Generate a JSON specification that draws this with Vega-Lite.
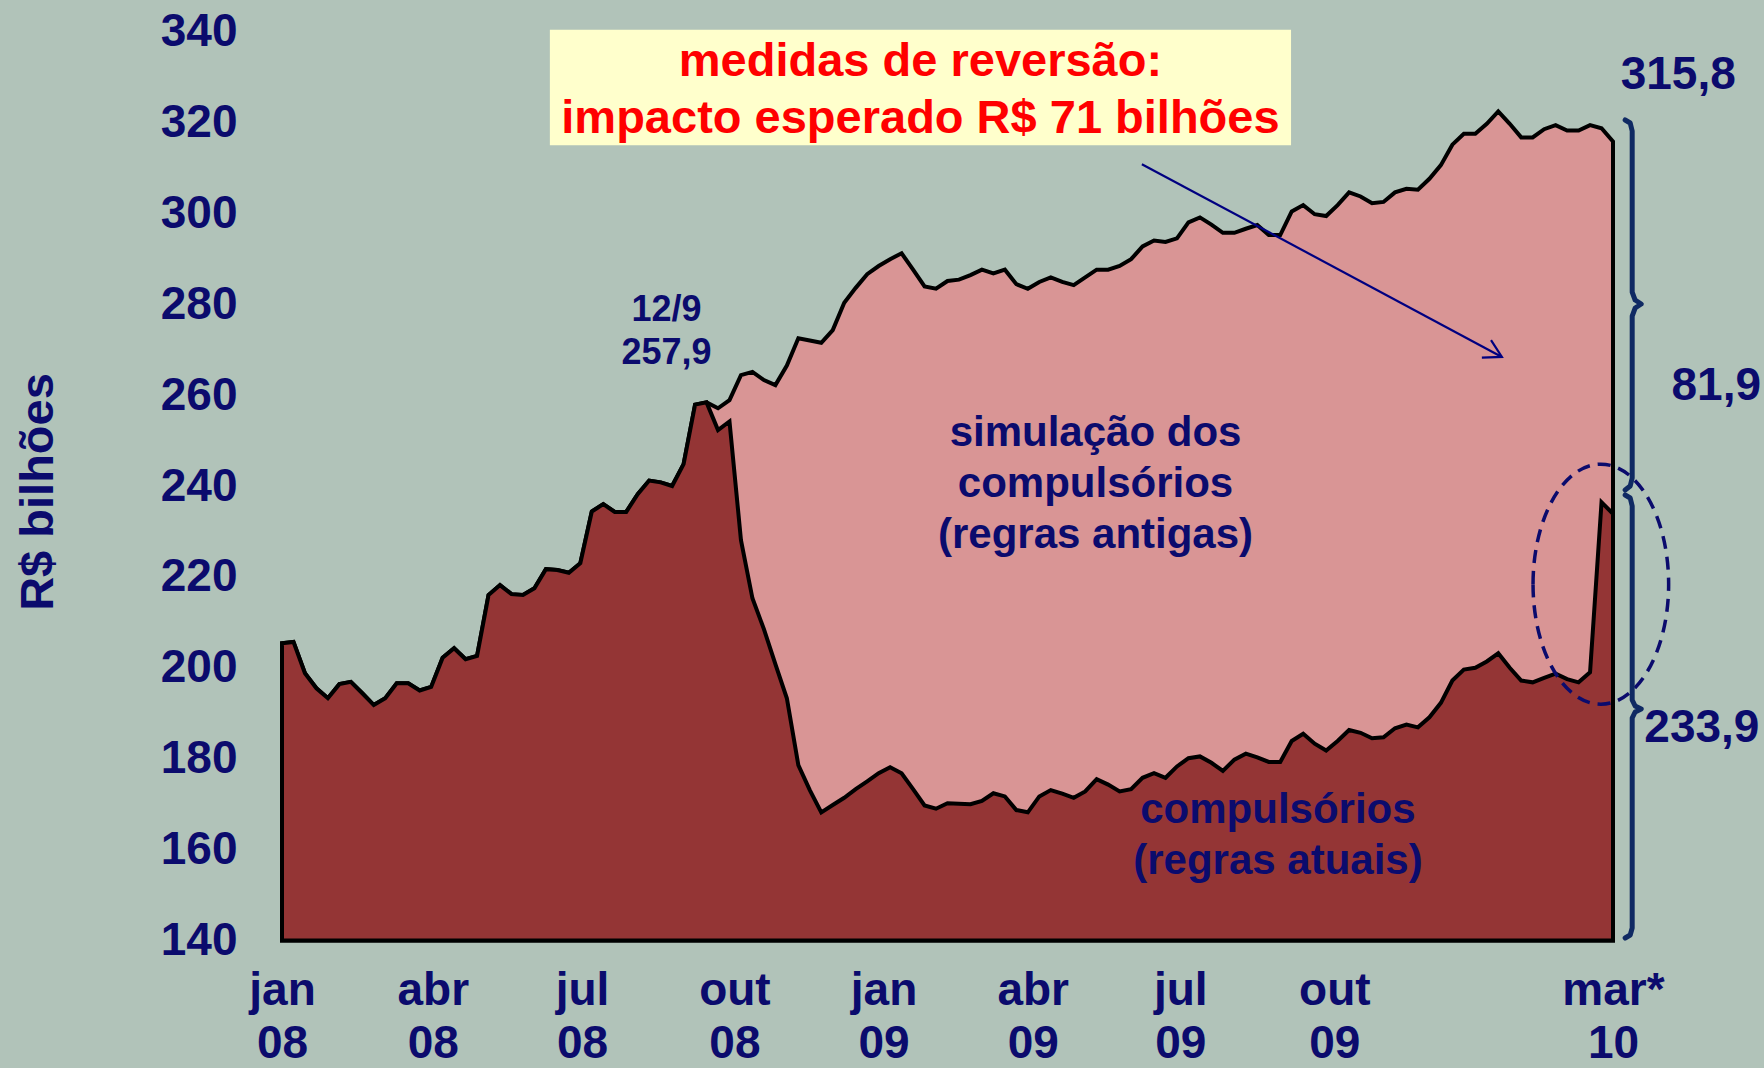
{
  "$schema": "https://vega.github.io/schema/vega-lite/v6.json",
  "width": 1331,
  "height": 909,
  "autosize": {"type": "none"},
  "padding": {"left": 282, "top": 31.5, "right": 151, "bottom": 127.5},
  "background": "#b1c3b9",
  "config": {"view": {"stroke": null}, "font": "Liberation Sans"},
  "datasets": {
    "serie": [
      {"data": "2008-01-04", "atual": 205.4, "antiga": 205.4},
      {"data": "2008-01-11", "atual": 205.7, "antiga": 205.7},
      {"data": "2008-01-18", "atual": 198.8, "antiga": 198.8},
      {"data": "2008-01-25", "atual": 195.5, "antiga": 195.5},
      {"data": "2008-02-01", "atual": 193.3, "antiga": 193.3},
      {"data": "2008-02-08", "atual": 196.4, "antiga": 196.4},
      {"data": "2008-02-15", "atual": 196.9, "antiga": 196.9},
      {"data": "2008-02-22", "atual": 194.4, "antiga": 194.4},
      {"data": "2008-02-29", "atual": 191.8, "antiga": 191.8},
      {"data": "2008-03-07", "atual": 193.3, "antiga": 193.3},
      {"data": "2008-03-14", "atual": 196.6, "antiga": 196.6},
      {"data": "2008-03-21", "atual": 196.6, "antiga": 196.6},
      {"data": "2008-03-28", "atual": 195.0, "antiga": 195.0},
      {"data": "2008-04-04", "atual": 195.8, "antiga": 195.8},
      {"data": "2008-04-11", "atual": 202.2, "antiga": 202.2},
      {"data": "2008-04-18", "atual": 204.3, "antiga": 204.3},
      {"data": "2008-04-25", "atual": 201.9, "antiga": 201.9},
      {"data": "2008-05-02", "atual": 202.6, "antiga": 202.6},
      {"data": "2008-05-09", "atual": 216.0, "antiga": 216.0},
      {"data": "2008-05-16", "atual": 218.2, "antiga": 218.2},
      {"data": "2008-05-23", "atual": 216.2, "antiga": 216.2},
      {"data": "2008-05-30", "atual": 216.0, "antiga": 216.0},
      {"data": "2008-06-06", "atual": 217.5, "antiga": 217.5},
      {"data": "2008-06-13", "atual": 221.7, "antiga": 221.7},
      {"data": "2008-06-20", "atual": 221.5, "antiga": 221.5},
      {"data": "2008-06-27", "atual": 220.9, "antiga": 220.9},
      {"data": "2008-07-04", "atual": 223.0, "antiga": 223.0},
      {"data": "2008-07-11", "atual": 234.4, "antiga": 234.4},
      {"data": "2008-07-18", "atual": 236.0, "antiga": 236.0},
      {"data": "2008-07-25", "atual": 234.3, "antiga": 234.3},
      {"data": "2008-08-01", "atual": 234.3, "antiga": 234.3},
      {"data": "2008-08-08", "atual": 238.2, "antiga": 238.2},
      {"data": "2008-08-15", "atual": 241.2, "antiga": 241.2},
      {"data": "2008-08-22", "atual": 240.8, "antiga": 240.8},
      {"data": "2008-08-29", "atual": 240.0, "antiga": 240.0},
      {"data": "2008-09-05", "atual": 244.8, "antiga": 244.8},
      {"data": "2008-09-12", "atual": 257.9, "antiga": 257.9},
      {"data": "2008-09-19", "atual": 258.4, "antiga": 258.4},
      {"data": "2008-09-26", "atual": 252.3, "antiga": 257.1},
      {"data": "2008-10-03", "atual": 254.2, "antiga": 258.9},
      {"data": "2008-10-10", "atual": 228.1, "antiga": 264.4},
      {"data": "2008-10-17", "atual": 215.3, "antiga": 265.1},
      {"data": "2008-10-24", "atual": 208.5, "antiga": 263.3},
      {"data": "2008-10-31", "atual": 200.8, "antiga": 262.2},
      {"data": "2008-11-07", "atual": 193.3, "antiga": 266.5},
      {"data": "2008-11-14", "atual": 178.6, "antiga": 272.5},
      {"data": "2008-11-21", "atual": 173.1, "antiga": 272.0},
      {"data": "2008-11-28", "atual": 168.2, "antiga": 271.5},
      {"data": "2008-12-05", "atual": 169.8, "antiga": 274.3},
      {"data": "2008-12-12", "atual": 171.4, "antiga": 280.3},
      {"data": "2008-12-19", "atual": 173.3, "antiga": 283.6},
      {"data": "2008-12-26", "atual": 175.0, "antiga": 286.6},
      {"data": "2009-01-02", "atual": 176.8, "antiga": 288.4},
      {"data": "2009-01-09", "atual": 178.1, "antiga": 289.9},
      {"data": "2009-01-16", "atual": 176.8, "antiga": 291.2},
      {"data": "2009-01-23", "atual": 173.3, "antiga": 287.6},
      {"data": "2009-01-30", "atual": 169.7, "antiga": 283.9},
      {"data": "2009-02-06", "atual": 169.0, "antiga": 283.4},
      {"data": "2009-02-13", "atual": 170.2, "antiga": 285.1},
      {"data": "2009-02-20", "atual": 170.1, "antiga": 285.4},
      {"data": "2009-02-27", "atual": 170.0, "antiga": 286.4},
      {"data": "2009-03-06", "atual": 170.7, "antiga": 287.6},
      {"data": "2009-03-13", "atual": 172.4, "antiga": 286.8},
      {"data": "2009-03-20", "atual": 171.7, "antiga": 287.6},
      {"data": "2009-03-27", "atual": 168.7, "antiga": 284.4},
      {"data": "2009-04-03", "atual": 168.2, "antiga": 283.4},
      {"data": "2009-04-10", "atual": 171.7, "antiga": 284.9},
      {"data": "2009-04-17", "atual": 173.1, "antiga": 285.9},
      {"data": "2009-04-24", "atual": 172.3, "antiga": 284.9},
      {"data": "2009-05-01", "atual": 171.4, "antiga": 284.2},
      {"data": "2009-05-08", "atual": 172.8, "antiga": 285.9},
      {"data": "2009-05-15", "atual": 175.5, "antiga": 287.6},
      {"data": "2009-05-22", "atual": 174.3, "antiga": 287.6},
      {"data": "2009-05-29", "atual": 172.8, "antiga": 288.4},
      {"data": "2009-06-05", "atual": 173.3, "antiga": 289.9},
      {"data": "2009-06-12", "atual": 175.8, "antiga": 292.7},
      {"data": "2009-06-19", "atual": 176.8, "antiga": 294.0},
      {"data": "2009-06-26", "atual": 175.8, "antiga": 293.7},
      {"data": "2009-07-03", "atual": 178.3, "antiga": 294.5},
      {"data": "2009-07-10", "atual": 180.1, "antiga": 298.0},
      {"data": "2009-07-17", "atual": 180.5, "antiga": 299.1},
      {"data": "2009-07-24", "atual": 179.1, "antiga": 297.5},
      {"data": "2009-07-31", "atual": 177.3, "antiga": 295.7},
      {"data": "2009-08-07", "atual": 179.8, "antiga": 295.7},
      {"data": "2009-08-14", "atual": 181.1, "antiga": 296.6},
      {"data": "2009-08-21", "atual": 180.3, "antiga": 297.4},
      {"data": "2009-08-28", "atual": 179.3, "antiga": 295.2},
      {"data": "2009-09-04", "atual": 179.3, "antiga": 295.2},
      {"data": "2009-09-11", "atual": 183.9, "antiga": 300.4},
      {"data": "2009-09-18", "atual": 185.5, "antiga": 301.8},
      {"data": "2009-09-25", "atual": 183.3, "antiga": 299.8},
      {"data": "2009-10-02", "atual": 181.8, "antiga": 299.4},
      {"data": "2009-10-09", "atual": 183.9, "antiga": 301.8},
      {"data": "2009-10-16", "atual": 186.3, "antiga": 304.6},
      {"data": "2009-10-23", "atual": 185.7, "antiga": 303.7},
      {"data": "2009-10-30", "atual": 184.5, "antiga": 302.2},
      {"data": "2009-11-06", "atual": 184.7, "antiga": 302.5},
      {"data": "2009-11-13", "atual": 186.7, "antiga": 304.6},
      {"data": "2009-11-20", "atual": 187.5, "antiga": 305.4},
      {"data": "2009-11-27", "atual": 186.9, "antiga": 305.2},
      {"data": "2009-12-04", "atual": 189.1, "antiga": 307.6},
      {"data": "2009-12-11", "atual": 192.3, "antiga": 310.6},
      {"data": "2009-12-18", "atual": 197.2, "antiga": 315.1},
      {"data": "2009-12-25", "atual": 199.6, "antiga": 317.5},
      {"data": "2010-01-01", "atual": 200.0, "antiga": 317.5},
      {"data": "2010-01-08", "atual": 201.4, "antiga": 319.7},
      {"data": "2010-01-15", "atual": 203.2, "antiga": 322.4},
      {"data": "2010-01-22", "atual": 200.0, "antiga": 319.7},
      {"data": "2010-01-29", "atual": 197.2, "antiga": 316.7},
      {"data": "2010-02-05", "atual": 196.8, "antiga": 316.7},
      {"data": "2010-02-12", "atual": 197.8, "antiga": 318.5},
      {"data": "2010-02-19", "atual": 198.7, "antiga": 319.4},
      {"data": "2010-02-26", "atual": 197.5, "antiga": 318.2},
      {"data": "2010-03-05", "atual": 196.8, "antiga": 318.2},
      {"data": "2010-03-12", "atual": 199.0, "antiga": 319.4},
      {"data": "2010-03-19", "atual": 236.4, "antiga": 318.7},
      {"data": "2010-03-26", "atual": 233.9, "antiga": 315.8}
    ],
    "caixa": [
      {"data": "2008-06-15T10:00:00Z", "data_fim": "2009-09-10T14:00:00Z", "topo": 340.4, "base": 315.0}
    ],
    "titulo": [
      {"data": "2009-01-27T12:00:00Z", "valor": 330.2, "texto": "medidas de reversão:\nimpacto esperado R$ 71 bilhões"}
    ],
    "pico": [
      {"data": "2008-08-25T14:00:00Z", "valor": 276.4, "texto": "12/9\n257,9"}
    ],
    "rotulos": [
      {"data": "2009-05-14T07:00:00Z", "valor": 248.8, "texto": "simulação dos\ncompulsórios\n(regras antigas)"},
      {"data": "2009-09-02T14:00:00Z", "valor": 165.9, "texto": "compulsórios\n(regras atuais)"}
    ],
    "valores": [
      {"data": "2010-05-04T19:00:00Z", "valor": 327.3, "texto": "315,8"},
      {"data": "2010-05-28T00:00:00Z", "valor": 258.9, "texto": "81,9"},
      {"data": "2010-05-19T05:00:00Z", "valor": 183.7, "texto": "233,9"}
    ],
    "seta": [
      {"parte": "haste", "ordem": 1, "data": "2009-06-11T14:00:00Z", "valor": 310.8},
      {"parte": "haste", "ordem": 2, "data": "2010-01-17T05:00:00Z", "valor": 268.4},
      {"parte": "ponta", "ordem": 1, "data": "2010-01-10T14:00:00Z", "valor": 272.1},
      {"parte": "ponta", "ordem": 2, "data": "2010-01-17T05:00:00Z", "valor": 268.4},
      {"parte": "ponta", "ordem": 3, "data": "2010-01-05T00:00:00Z", "valor": 268.25}
    ],
    "elipse": [
      {"data": "2010-03-18T14:00:00Z", "valor": 218.4}
    ],
    "chaves": [
      {"chave": "superior", "ordem": 1, "data": "2010-04-02T10:00:00Z", "valor": 320.53},
      {"chave": "superior", "ordem": 2, "data": "2010-04-05T12:00:00Z", "valor": 319.87},
      {"chave": "superior", "ordem": 3, "data": "2010-04-06T17:00:00Z", "valor": 318.11},
      {"chave": "superior", "ordem": 4, "data": "2010-04-06T17:00:00Z", "valor": 282.68},
      {"chave": "superior", "ordem": 5, "data": "2010-04-08T12:00:00Z", "valor": 280.92},
      {"chave": "superior", "ordem": 6, "data": "2010-04-12T05:00:00Z", "valor": 280.04},
      {"chave": "superior", "ordem": 7, "data": "2010-04-08T12:00:00Z", "valor": 279.16},
      {"chave": "superior", "ordem": 8, "data": "2010-04-06T17:00:00Z", "valor": 277.40},
      {"chave": "superior", "ordem": 9, "data": "2010-04-06T17:00:00Z", "valor": 241.76},
      {"chave": "superior", "ordem": 10, "data": "2010-04-05T12:00:00Z", "valor": 240.0},
      {"chave": "superior", "ordem": 11, "data": "2010-04-02T10:00:00Z", "valor": 239.12},
      {"chave": "inferior", "ordem": 1, "data": "2010-04-02T10:00:00Z", "valor": 238.02},
      {"chave": "inferior", "ordem": 2, "data": "2010-04-05T12:00:00Z", "valor": 237.36},
      {"chave": "inferior", "ordem": 3, "data": "2010-04-06T17:00:00Z", "valor": 235.60},
      {"chave": "inferior", "ordem": 4, "data": "2010-04-06T17:00:00Z", "valor": 192.92},
      {"chave": "inferior", "ordem": 5, "data": "2010-04-08T12:00:00Z", "valor": 191.60},
      {"chave": "inferior", "ordem": 6, "data": "2010-04-12T05:00:00Z", "valor": 190.94},
      {"chave": "inferior", "ordem": 7, "data": "2010-04-08T12:00:00Z", "valor": 190.28},
      {"chave": "inferior", "ordem": 8, "data": "2010-04-06T17:00:00Z", "valor": 188.96},
      {"chave": "inferior", "ordem": 9, "data": "2010-04-06T17:00:00Z", "valor": 142.75},
      {"chave": "inferior", "ordem": 10, "data": "2010-04-05T12:00:00Z", "valor": 141.21},
      {"chave": "inferior", "ordem": 11, "data": "2010-04-02T10:00:00Z", "valor": 140.55}
    ]
  },
  "layer": [
    {
      "data": {"name": "serie"},
      "mark": {"type": "area", "color": "#d99595", "stroke": "#000000", "strokeWidth": 4, "strokeJoin": "miter"},
      "encoding": {
        "x": {
          "field": "data", "type": "temporal",
          "scale": {"type": "utc", "nice": false,
            "domain": [{"year": 2008, "month": 1, "date": 4, "utc": true}, {"year": 2010, "month": 3, "date": 26, "utc": true}]},
          "axis": {
            "title": null, "grid": false, "domain": false, "ticks": false,
            "values": [
              {"year": 2008, "month": 1, "date": 4, "utc": true},
              {"year": 2008, "month": 4, "date": 5, "utc": true},
              {"year": 2008, "month": 7, "date": 5, "utc": true},
              {"year": 2008, "month": 10, "date": 6, "utc": true},
              {"year": 2009, "month": 1, "date": 5, "utc": true},
              {"year": 2009, "month": 4, "date": 6, "utc": true},
              {"year": 2009, "month": 7, "date": 5, "utc": true},
              {"year": 2009, "month": 10, "date": 7, "utc": true},
              {"year": 2010, "month": 3, "date": 26, "utc": true}
            ],
            "labelExpr": "[['jan','fev','mar','abr','mai','jun','jul','ago','set','out','nov','dez'][utcmonth(datum.value)] + (utcyear(datum.value) == 2010 ? '*' : ''), utcFormat(datum.value, '%y')]",
            "labelFont": "Liberation Sans", "labelFontWeight": "bold", "labelFontSize": 46,
            "labelColor": "#0b0b6d", "labelLineHeight": 53, "labelPadding": 28,
            "labelBaseline": "top", "labelAlign": "center",
            "labelOverlap": false, "labelBound": false, "labelFlush": false
          }
        },
        "y": {
          "field": "antiga", "type": "quantitative",
          "scale": {"domain": [140, 340], "nice": false, "zero": false},
          "axis": {
            "title": "R$ bilhões", "grid": false, "domain": false, "ticks": false,
            "values": [140, 160, 180, 200, 220, 240, 260, 280, 300, 320, 340],
            "labelFont": "Liberation Sans", "labelFontWeight": "bold", "labelFontSize": 46,
            "labelColor": "#0b0b6d", "labelPadding": 45, "labelOverlap": false, "labelBound": false, "labelFlush": false,
            "titleFont": "Liberation Sans", "titleFontWeight": "bold", "titleFontSize": 47, "titleColor": "#0b0b6d",
            "titleAngle": -90, "titleX": -230, "titleY": 460, "titleAlign": "center", "titleBaseline": "alphabetic"
          }
        },
        "y2": {"datum": 140}
      }
    },
    {
      "data": {"name": "serie"},
      "mark": {"type": "area", "color": "#943535", "stroke": "#000000", "strokeWidth": 4, "strokeJoin": "miter"},
      "encoding": {
        "x": {"field": "data", "type": "temporal"},
        "y": {"field": "atual", "type": "quantitative"},
        "y2": {"datum": 140}
      }
    },
    {
      "data": {"name": "caixa"},
      "mark": {"type": "rect", "color": "#ffffcc"},
      "encoding": {
        "x": {"field": "data", "type": "temporal"},
        "x2": {"field": "data_fim"},
        "y": {"field": "topo", "type": "quantitative"},
        "y2": {"field": "base"}
      }
    },
    {
      "data": {"name": "titulo"},
      "mark": {"type": "text", "lineBreak": "\n", "align": "center", "baseline": "alphabetic", "font": "Liberation Sans", "fontWeight": "bold", "fontSize": 47, "lineHeight": 57, "color": "#ff0000"},
      "encoding": {
        "x": {"field": "data", "type": "temporal"},
        "y": {"field": "valor", "type": "quantitative"},
        "text": {"field": "texto"}
      }
    },
    {
      "data": {"name": "pico"},
      "mark": {"type": "text", "lineBreak": "\n", "align": "center", "baseline": "alphabetic", "font": "Liberation Sans", "fontWeight": "bold", "fontSize": 36, "lineHeight": 43, "color": "#0b0b6d"},
      "encoding": {
        "x": {"field": "data", "type": "temporal"},
        "y": {"field": "valor", "type": "quantitative"},
        "text": {"field": "texto"}
      }
    },
    {
      "data": {"name": "rotulos"},
      "mark": {"type": "text", "lineBreak": "\n", "align": "center", "baseline": "alphabetic", "font": "Liberation Sans", "fontWeight": "bold", "fontSize": 42, "lineHeight": 51, "color": "#0b0b6d"},
      "encoding": {
        "x": {"field": "data", "type": "temporal"},
        "y": {"field": "valor", "type": "quantitative"},
        "text": {"field": "texto"}
      }
    },
    {
      "data": {"name": "valores"},
      "mark": {"type": "text", "align": "center", "baseline": "alphabetic", "font": "Liberation Sans", "fontWeight": "bold", "fontSize": 46, "color": "#0b0b6d"},
      "encoding": {
        "x": {"field": "data", "type": "temporal"},
        "y": {"field": "valor", "type": "quantitative"},
        "text": {"field": "texto"}
      }
    },
    {
      "data": {"name": "seta"},
      "mark": {"type": "line", "color": "#000080", "strokeWidth": 2.2},
      "encoding": {
        "x": {"field": "data", "type": "temporal"},
        "y": {"field": "valor", "type": "quantitative"},
        "detail": {"field": "parte"},
        "order": {"field": "ordem"}
      }
    },
    {
      "data": {"name": "elipse"},
      "mark": {"type": "point", "shape": "M -0.565 0 A 0.565 1 0 1 0 0.565 0 A 0.565 1 0 1 0 -0.565 0 Z", "size": 57600, "filled": false, "stroke": "#0b0b6d", "strokeWidth": 3.5, "strokeDash": [13, 8], "opacity": 1},
      "encoding": {
        "x": {"field": "data", "type": "temporal"},
        "y": {"field": "valor", "type": "quantitative"}
      }
    },
    {
      "data": {"name": "chaves"},
      "mark": {"type": "line", "color": "#102a63", "strokeWidth": 5, "strokeJoin": "round", "strokeCap": "round"},
      "encoding": {
        "x": {"field": "data", "type": "temporal"},
        "y": {"field": "valor", "type": "quantitative"},
        "detail": {"field": "chave"},
        "order": {"field": "ordem"}
      }
    }
  ]
}
